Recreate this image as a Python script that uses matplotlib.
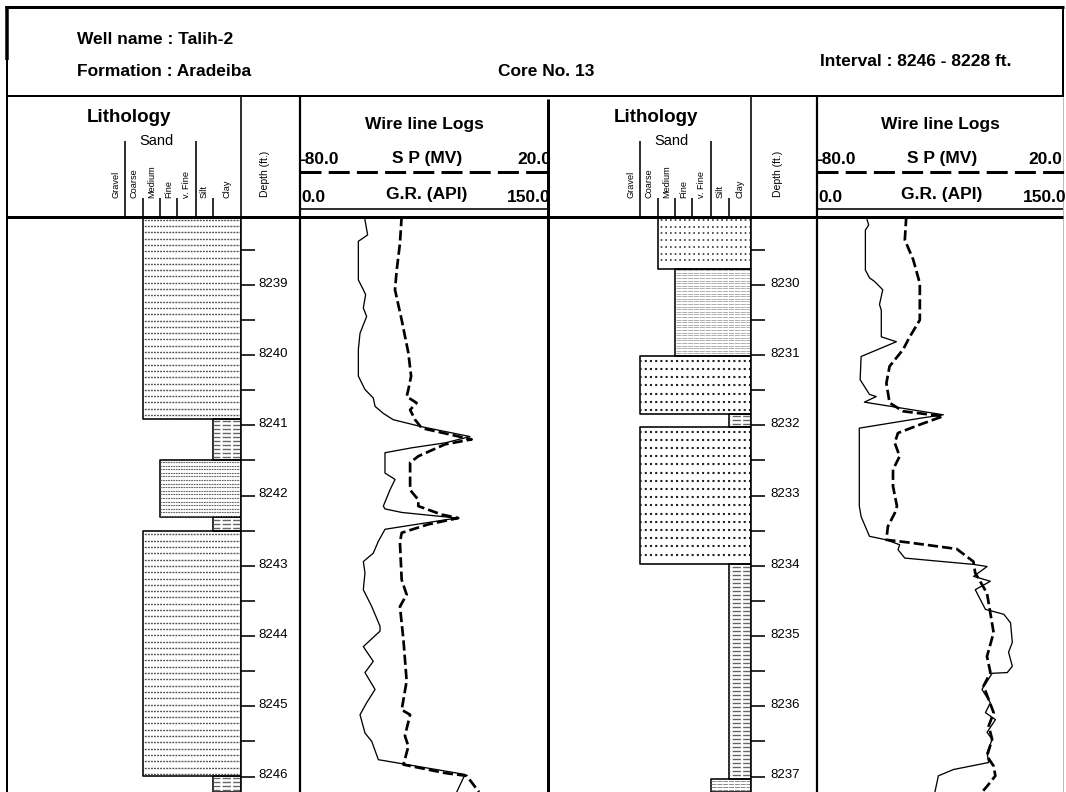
import numpy as np
import matplotlib
matplotlib.use('Agg')
import matplotlib.pyplot as plt
import matplotlib.transforms as mtrans

plt.rcParams['font.family'] = ['Liberation Sans', 'DejaVu Sans']

# ---------------------------------------------------------------- data
WELL_NAME = 'Talih-2'
FORMATION = 'Aradeiba'
CORE_NO = '13'
INTERVAL = '8246 - 8228 ft.'

GRAINS = ['Gravel', 'Coarse', 'Medium', 'Fine', 'v. Fine', 'Silt', 'Clay']
SP_RANGE = (-80.0, 20.0)
GR_RANGE = (0.0, 150.0)

DEPTH_L = (8238.02, 8246.22)
DEPTH_R = (8229.02, 8237.22)

# lithology, left half
LITH_L_TOP = [8238.02, 8240.91, 8241.49, 8242.31, 8242.50, 8245.99]
LITH_L_BASE = [8240.91, 8241.49, 8242.31, 8242.50, 8245.99, 8246.22]
LITH_L_GRAIN = ['Medium', 'Clay', 'Fine', 'Clay', 'Medium', 'Clay']
LITH_L_FILL = ['dashed sand', 'shale', 'dense sand', 'shale', 'dashed sand', 'shale']

# lithology, right half
LITH_R_TOP = [8229.02, 8229.77, 8231.01, 8231.84, 8232.02, 8233.98, 8237.03]
LITH_R_BASE = [8229.77, 8231.01, 8231.84, 8232.02, 8233.98, 8237.03, 8237.22]
LITH_R_GRAIN = ['Medium', 'Fine', 'Coarse', 'Clay', 'Coarse', 'Clay', 'Silt']
LITH_R_FILL = ['dotted sand', 'laminated sand', 'coarse sand', 'shale',
               'coarse sand', 'shale', 'silt']

# wire line logs, left half
GR_L_DEPTH = [8238.02, 8238.29, 8238.38, 8238.93, 8239.07, 8239.14, 8239.33, 8239.45,
              8239.69, 8239.92, 8240.30, 8240.49, 8240.61, 8240.73, 8240.83, 8240.92,
              8241.02, 8241.16, 8241.25, 8241.32, 8241.39, 8241.68, 8241.77, 8241.92,
              8242.15, 8242.19, 8242.24, 8242.32, 8242.48, 8242.65, 8242.82, 8242.94,
              8243.10, 8243.34, 8243.58, 8243.86, 8243.93, 8244.15, 8244.36, 8244.52,
              8244.76, 8244.95, 8245.12, 8245.38, 8245.50, 8245.76, 8245.97, 8246.22]
GR_L = [38.9, 40.9, 35.3, 35.3, 38.3, 39.7, 38.3, 40.3,
        36.3, 35.3, 35.3, 39.3, 44.3, 45.4, 50.4, 56.4,
        73.6, 102.8, 87.7, 67.6, 51.4, 51.4, 57.5, 54.4,
        50.4, 51.4, 61.5, 94.8, 51.4, 47.4, 44.3, 38.3,
        39.3, 38.3, 43.4, 48.4, 48.4, 38.3, 44.3, 39.3,
        45.4, 40.3, 36.3, 39.3, 43.4, 47.4, 99.8, 94.8]

SP_L_DEPTH = [8238.02, 8238.41, 8238.79, 8239.07, 8239.50, 8239.97, 8240.30, 8240.49,
              8240.59, 8240.68, 8240.78, 8240.92, 8241.04, 8241.20, 8241.27, 8241.44,
              8241.53, 8241.92, 8242.06, 8242.15, 8242.27, 8242.32, 8242.41, 8242.53,
              8242.67, 8243.20, 8243.41, 8243.58, 8244.05, 8244.64, 8245.05, 8245.12,
              8245.42, 8245.57, 8245.83, 8245.95, 8245.99, 8246.22]
SP_L = [-39.0, -39.7, -41.0, -41.7, -39.0, -36.3, -35.2, -36.3,
        -37.0, -33.0, -35.6, -33.6, -30.9, -10.8, -21.5, -32.3,
        -35.6, -35.6, -32.3, -32.3, -22.9, -16.2, -28.3, -39.0,
        -39.7, -39.0, -37.0, -39.7, -38.3, -37.0, -39.0, -35.6,
        -37.7, -36.3, -38.3, -21.5, -12.8, -7.8]

# wire line logs, right half
GR_R_DEPTH = [8229.02, 8229.15, 8229.22, 8229.79, 8229.90, 8229.95, 8230.07, 8230.28,
              8230.36, 8230.74, 8230.81, 8231.02, 8231.35, 8231.56, 8231.59, 8231.67,
              8231.85, 8231.90, 8232.04, 8233.15, 8233.30, 8233.58, 8233.63, 8233.70,
              8233.77, 8233.89, 8233.98, 8234.01, 8234.15, 8234.22, 8234.34, 8234.62,
              8234.69, 8234.81, 8235.09, 8235.23, 8235.43, 8235.52, 8235.53, 8235.76,
              8235.95, 8236.09, 8236.19, 8236.37, 8236.47, 8236.66, 8236.80, 8236.90,
              8236.99, 8237.22]
GR_R = [29.9, 31.5, 29.5, 29.5, 32.0, 35.0, 40.1, 38.1,
        39.2, 39.2, 48.4, 26.9, 26.3, 32.0, 36.1, 28.9,
        77.0, 62.7, 25.8, 25.8, 26.9, 32.0, 42.2, 50.4,
        49.4, 53.5, 95.5, 103.7, 95.5, 105.7, 96.5, 102.7,
        113.9, 118.0, 119.1, 116.8, 119.1, 116.0, 106.8, 100.6,
        105.7, 102.7, 108.8, 103.7, 106.8, 103.7, 104.7, 83.2,
        74.0, 71.9]

SP_R_DEPTH = [8229.02, 8229.36, 8229.64, 8229.98, 8230.50, 8230.74, 8230.92, 8231.16,
              8231.40, 8231.68, 8231.80, 8231.87, 8231.99, 8232.11, 8232.25, 8232.44,
              8232.63, 8232.87, 8233.15, 8233.25, 8233.44, 8233.63, 8233.67, 8233.76,
              8233.94, 8234.10, 8234.39, 8234.95, 8235.29, 8235.52, 8235.71, 8236.09,
              8236.28, 8236.47, 8236.71, 8236.85, 8236.99, 8237.14, 8237.22]
SP_R = [-43.7, -44.3, -40.9, -38.2, -38.2, -42.3, -45.0, -50.5,
        -51.8, -50.5, -45.0, -28.7, -38.2, -47.1, -48.4, -46.4,
        -49.1, -49.1, -47.5, -48.4, -51.2, -51.8, -42.3, -23.2,
        -16.4, -15.7, -10.9, -8.2, -10.9, -9.5, -12.3, -8.2,
        -10.2, -8.8, -10.9, -8.2, -7.5, -10.9, -12.9]

# ---------------------------------------------------------------- styles
W, H = 1066, 792
PX = 0.72            # points per pixel at dpi 100
Y_TOP, Y_BOT = 216, 792

FILL_STYLE = {
    'dashed sand':    dict(gap=6.3, color='#555555', lw=1.0, dash=(1.4, 0.8)),
    'dense sand':     dict(gap=3.6, color='#666666', lw=0.8, dash=(1.6, 0.7)),
    'shale':          dict(gap=4.0, color='#666666', lw=1.0, dash=(6.0, 1.6)),
    'dotted sand':    dict(gap=6.7, color='#333333', lw=1.2, dash=(1.0, 1.8)),
    'laminated sand': dict(gap=2.6, color='#a0a0a0', lw=0.6, dash=(6.0, 1.0)),
    'coarse sand':    dict(gap=8.2, color='#222222', lw=1.5, dash=(1.0, 1.5)),
    'silt':           dict(gap=3.2, color='#888888', lw=0.7, dash=(5.0, 1.0)),
}
TALL = {'Coarse', 'Silt'}

PANELS = [
    dict(x_lith=(7, 241), x_depth=(241, 300), x_log=(300, 548),
         edges=[134, 116, 98, 81, 64, 45, 28], depth=DEPTH_L,
         lith=(LITH_L_TOP, LITH_L_BASE, LITH_L_GRAIN, LITH_L_FILL),
         gr=(GR_L_DEPTH, GR_L), sp=(SP_L_DEPTH, SP_L),
         num_right=(551, 551), title_dx=3, lith_title_x=129),
    dict(x_lith=(548, 751), x_depth=(751, 817), x_log=(817, 1063),
         edges=[129, 111, 93, 76, 59, 40, 22], depth=DEPTH_R,
         lith=(LITH_R_TOP, LITH_R_BASE, LITH_R_GRAIN, LITH_R_FILL),
         gr=(GR_R_DEPTH, GR_R), sp=(SP_R_DEPTH, SP_R),
         num_right=(1062, 1067), title_dx=2, lith_title_x=656),
]

fig = plt.figure(figsize=(W / 100, H / 100), dpi=100)
fig.patch.set_facecolor('white')


def rect(x0, x1, y0, y1):
    return [x0 / W, 1 - y1 / H, (x1 - x0) / W, (y1 - y0) / H]


frame = fig.add_axes([0, 0, 1, 1], zorder=3)
frame.set_xlim(0, W)
frame.set_ylim(H, 0)
frame.axis('off')
frame.patch.set_alpha(0)


def hline(y, x0, x1, w, **kw):
    frame.plot([x0, x1], [y, y], color=kw.pop('color', 'black'), lw=w * PX,
               solid_capstyle='butt', **kw)


def vline(x, y0, y1, w, **kw):
    frame.plot([x, x], [y0, y1], color=kw.pop('color', 'black'), lw=w * PX,
               solid_capstyle='butt', **kw)


BOLD = dict(fontweight='bold', fontsize=12.5, color='black')

# ---------------------------------------------------------------- page header
hline(7, 5, 1064, 3)
vline(7, 6, 792, 2)
vline(7, 6, 60, 3.5)
vline(1063, 6, 97, 2)
vline(1063, 97, 792, 1, color='#bbbbbb')
hline(96, 7, 1063, 2)
hline(216.5, 7, 1063, 3)

frame.text(77, 40, 'Well name : ' + WELL_NAME, va='center', **BOLD)
frame.text(77, 72, 'Formation : ' + FORMATION, va='center', **BOLD)
frame.text(546, 71, 'Core No. ' + CORE_NO, va='center', ha='center', **BOLD)
frame.text(820, 62, 'Interval : ' + INTERVAL, va='center', **BOLD)

for p in PANELS:
    lx0, lx1 = p['x_lith']
    dx0, dx1 = p['x_depth']
    gx0, gx1 = p['x_log']
    edges = p['edges']
    top, bot = p['depth']
    gxc = (gx0 + gx1) / 2

    # ----- column frame
    vline(dx0, 96, 792, 1.6)
    vline(gx0, 96, 792, 2.2)
    if gx1 < 1000:
        vline(gx1, 99, 792, 3)

    # ----- lithology header
    frame.text(p['lith_title_x'], 118, 'Lithology', ha='center', va='center',
               fontweight='bold', fontsize=13.5)
    sand_x = lx1 - (edges[GRAINS.index('Coarse')] + edges[GRAINS.index('Silt')]) / 2 - 4
    frame.text(sand_x, 141, 'Sand', ha='center', va='center', fontsize=10.5)
    for i, g in enumerate(GRAINS):
        if i > 0:
            x = lx1 - edges[i]
            vline(x, 141 if g in TALL else 198, 216, 1.6)
        inner = edges[i + 1] if i + 1 < len(edges) else 0
        frame.text(lx1 - (edges[i] + inner) / 2, 198, g, rotation=90,
                   ha='center', va='bottom', fontsize=6.6)
    frame.text((dx0 + dx1) / 2 - 6, 174, 'Depth (ft.)', rotation=90,
               ha='center', va='center', fontsize=7.5)

    # ----- log header
    frame.text(gxc, 124, 'Wire line Logs', ha='center', va='center', **BOLD)
    frame.text(gxc + p['title_dx'], 158, 'S P (MV)', ha='center', va='center', **BOLD)
    frame.text(gxc + p['title_dx'], 194, 'G.R. (API)', ha='center', va='center', **BOLD)
    frame.text(gx0 - 1, 160, f'{SP_RANGE[0]:.1f}', ha='left', va='center', **BOLD)
    frame.text(p['num_right'][0], 160, f'{SP_RANGE[1]:.1f}', ha='right', va='center', **BOLD)
    frame.text(gx0 + 1, 198, f'{GR_RANGE[0]:.1f}', ha='left', va='center', **BOLD)
    frame.text(p['num_right'][1], 198, f'{GR_RANGE[1]:.1f}', ha='right', va='center', **BOLD)
    hline(172, gx0, gx1 + 2, 3, ls=(0, (7, 2.4)))
    hline(208.5, gx0, gx1, 1.6)

    # ----- lithology track
    axl = fig.add_axes(rect(lx0, lx1, Y_TOP, Y_BOT), zorder=1)
    axl.set_xlim(lx1 - lx0, 0)
    axl.set_ylim(bot, top)
    axl.axis('off')
    axl.patch.set_alpha(0)
    px_per_ft = (Y_BOT - Y_TOP) / (bot - top)
    ltop, lbase, lgrain, lfill = p['lith']
    for t, b, g, f in zip(ltop, lbase, lgrain, lfill):
        w = edges[GRAINS.index(g)]
        st = FILL_STYLE[f]
        step = st['gap'] / px_per_ft
        ys = np.arange(t + step * 0.6, b - step * 0.3, step)
        axl.hlines(ys, 0, w, colors=st['color'], linewidth=st['lw'],
                   linestyles=[(0, st['dash'])])
        axl.fill_betweenx([t, b], 0, w, facecolor='none', edgecolor='black',
                          linewidth=1.6 * PX)

    # ----- depth track
    axd = fig.add_axes(rect(dx0, dx1, Y_TOP, Y_BOT), zorder=1)
    axd.set_xlim(0, 1)
    axd.set_ylim(bot, top)
    axd.patch.set_alpha(0)
    for s in axd.spines.values():
        s.set_visible(False)
    major = np.arange(np.ceil(top), np.floor(bot) + 1)
    minor = np.arange(np.ceil(top * 2) / 2, bot, 0.5)
    minor = minor[minor % 1 != 0]
    axd.set_yticks(major)
    axd.set_yticks(minor, minor=True)
    axd.set_xticks([])
    axd.tick_params(axis='y', which='both', direction='in', length=14 * PX,
                    width=1.6 * PX, labelleft=False, left=True, right=False)
    trans = mtrans.offset_copy(mtrans.blended_transform_factory(axd.transAxes, axd.transData),
                               fig=fig, x=0, y=-1.3, units='points')
    for d in major:
        axd.text(0.29, d, f'{d:.0f}', transform=trans, va='baseline', ha='left',
                 fontsize=9.5)

    # ----- log track
    axg = fig.add_axes(rect(gx0, gx1, Y_TOP, Y_BOT), zorder=1)
    axg.set_xlim(*GR_RANGE)
    axg.set_ylim(bot, top)
    axg.patch.set_alpha(0)
    axg.plot(p['gr'][1], p['gr'][0], color='black', lw=1.3 * PX)
    axs = axg.twiny()
    axs.set_xlim(*SP_RANGE)
    axs.plot(p['sp'][1], p['sp'][0], color='black', lw=2.7 * PX, ls=(0, (3.8, 1.5)))
    for a in (axg, axs):
        for s in a.spines.values():
            s.set_visible(False)
        a.set_xticks([])
        a.set_yticks([])

fig.savefig('out.png', dpi=100, facecolor='white')
